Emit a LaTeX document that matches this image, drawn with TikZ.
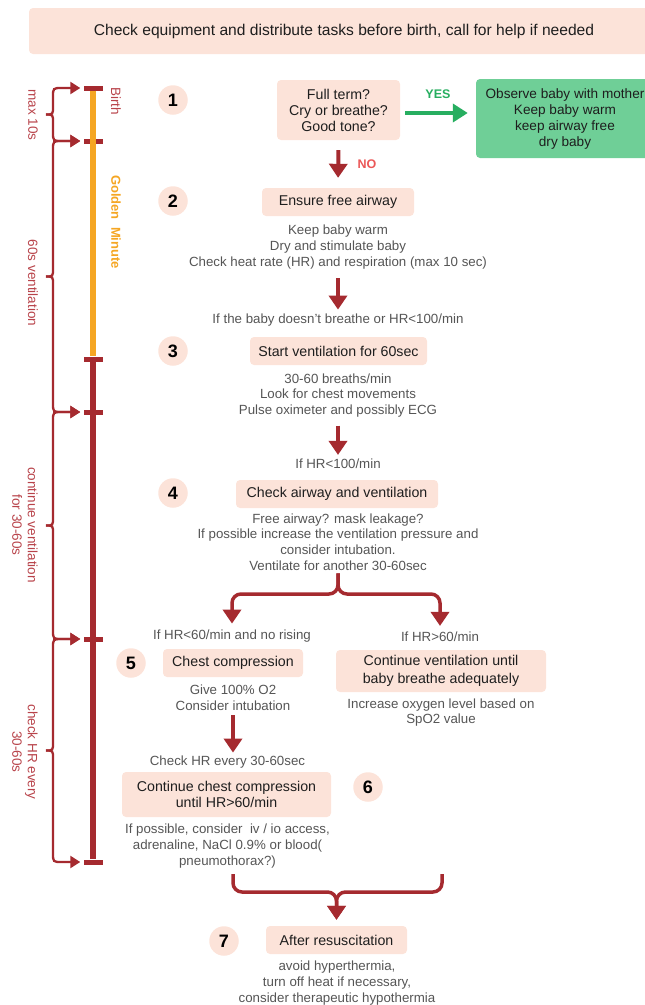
\documentclass[tikz,border=0pt]{standalone}
\usepackage{fontspec}
\setmainfont{Liberation Sans}
\usetikzlibrary{arrows.meta}

\definecolor{peach}{HTML}{FCE3D9}
\definecolor{leaf}{HTML}{6FCF97}
\definecolor{okgreen}{HTML}{27AE60}
\definecolor{darkred}{HTML}{A52A2F}
\definecolor{nored}{HTML}{EB5757}
\definecolor{notegray}{HTML}{555555}
\definecolor{ink}{HTML}{1E1E1E}
\definecolor{gold}{HTML}{F5A623}
\definecolor{timeline}{HTML}{B8434A}

\begin{document}
\begin{tikzpicture}[x=1pt,y=-1pt,
  box/.style={fill=peach, rounded corners=4pt, inner sep=0pt, align=center, text=ink,
    font=\fontsize{14.2}{16.5}\selectfont},
  note/.style={inner sep=0pt, align=center, text=notegray, font=\fontsize{13.3}{15.6}\selectfont},
  stepnum/.style={circle, fill=peach, minimum size=29.5pt, inner sep=0pt, text=black,
    font=\fontsize{18}{18}\selectfont\bfseries},
  flow/.style={draw=darkred, line width=4pt, -{Triangle[width=18pt,length=14pt]}},
  fork/.style={draw=darkred, line width=3.5pt, rounded corners=9pt, -{Triangle[width=18pt,length=14pt]}},
  tick/.style={fill=darkred, minimum width=19pt, minimum height=5pt, inner sep=0pt},
  span/.style={draw=darkred, line width=2.3pt, -{Triangle[width=12pt,length=10pt]}, shorten >=3pt},
  spanlabel/.style={text=timeline, rotate=-90, align=center, inner sep=0pt,
    font=\fontsize{13.5}{15.5}\selectfont},
]
\useasboundingbox (0,0) rectangle (645,1005);
\clip (0,0) rectangle (645,1005);

% ---------- header ----------
\node[box, minimum width=630pt, minimum height=46pt, font=\fontsize{15.6}{18}\selectfont]
  (banner) at (344,31) {Check equipment and distribute tasks before birth, call for help if needed};

% ---------- timeline ----------
\node[tick] (t0) at (93,88) {};
\node[tick] (t1) at (93,141) {};
\node[tick] (t2) at (93,359) {};
\node[tick] (t3) at (93,412) {};
\node[tick] (t4) at (93,639) {};
\node[tick] (t5) at (93,862) {};
\draw[gold, line width=5.5pt] (t0) -- (t2);
\draw[darkred, line width=6.5pt] (t2) -- (t5);

\node[spanlabel] (birth) at (116,101) {Birth};
\node[spanlabel, text=gold, font=\fontsize{13}{15}\selectfont\bfseries] (golden) at (116,222) {Golden\ \ Minute};

\foreach \ya/\yb/\ta/\tb in {88/141/t0/t1, 141/412/t1/t3, 412/639/t3/t4, 639/862/t4/t5} {
  \pgfmathsetmacro\ym{(\ya+\yb)/2}
  \draw[span] (46,\ym) .. controls (53,\ym) .. (53,\ym-8) -- (53,\ya+9)
     .. controls (53,\ya) .. (62,\ya) -- (\ta.west);
  \draw[span] (46,\ym) .. controls (53,\ym) .. (53,\ym+8) -- (53,\yb-9)
     .. controls (53,\yb) .. (62,\yb) -- (\tb.west);
}
\node[spanlabel] (l1) at (33,115) {max 10s};
\node[spanlabel] (l2) at (33,283) {60s ventilation};
\node[spanlabel] (l3) at (25,525) {continue ventilation\\for 30-60s};
\node[spanlabel] (l4) at (25,752) {check HR every\\30-60s};

% ---------- step numbers ----------
\node[stepnum] (s1) at (173,100) {1};
\node[stepnum] (s2) at (173,201) {2};
\node[stepnum] (s3) at (173,351) {3};
\node[stepnum] (s4) at (173,493) {4};
\node[stepnum] (s5) at (131,663) {5};
\node[stepnum] (s6) at (368,787) {6};
\node[stepnum] (s7) at (224,941) {7};

% ---------- step 1 ----------
\node[box, minimum width=123pt, minimum height=60pt, font=\fontsize{14.2}{16}\selectfont]
  (query) at (338.5,110) {Full term?\\Cry or breathe?\\Good tone?};
\node[box, fill=leaf, minimum width=178pt, minimum height=79pt, font=\fontsize{13.6}{16}\selectfont]
  (observe) at (565,118.5) {Observe baby with mother\\Keep baby warm\\keep airway free\\dry baby};
\draw[draw=okgreen, line width=4pt, -{Triangle[width=18pt,length=15pt]}, shorten <=5pt, shorten >=8pt]
  (query.east |- 0,113) -- (observe.west |- 0,113)
  node[midway, above=9pt, text=okgreen, font=\fontsize{12.5}{14}\selectfont\bfseries] (yes) {YES};

% ---------- step 2 ----------
\node[box, minimum width=152pt, minimum height=28pt] (airway) at (338,202) {Ensure free airway};
\draw[flow, shorten <=10pt, shorten >=10pt] (query.south) -- (airway.north)
  node[midway, right=14pt, text=nored, font=\fontsize{12.5}{14}\selectfont\bfseries] (no) {NO};
\node[note] (n2) at (338,247) {Keep baby warm\\Dry and stimulate baby\\Check heat rate (HR) and respiration (max 10 sec)};

% ---------- step 3 ----------
\node[note] (c3) at (338,320) {If the baby doesn’t breathe or HR<100/min};
\draw[flow, shorten <=9pt, shorten >=4pt] (n2.south -| airway.south) -- (c3.north -| airway.south);
\node[box, minimum width=177pt, minimum height=28pt] (vent) at (338.5,351) {Start ventilation for 60sec};
\node[note] (n3) at (338,395.5) {30-60 breaths/min\\Look for chest movements\\Pulse oximeter and possibly ECG};

% ---------- step 4 ----------
\node[note] (c4) at (338,464) {If HR<100/min};
\draw[flow, shorten <=8pt, shorten >=4pt] (n3.south -| airway.south) -- (c4.north -| airway.south);
\node[box, minimum width=202pt, minimum height=28pt] (recheck) at (337,494) {Check airway and ventilation};
\node[note] (n4) at (338,542) {Free airway? mask leakage?\\If possible increase the ventilation pressure and\\consider intubation.\\Ventilate for another 30-60sec};

% ---------- step 5 : two branches ----------
\node[note] (c5) at (232,636) {If HR<60/min and no rising};
\node[note] (c5r) at (440,637) {If HR>60/min};
\draw[fork, shorten >=6pt] ([yshift=-3pt]n4.south) -- (n4.south |- 0,594) -| (c5.north);
\draw[fork, shorten >=6pt] ([yshift=-3pt]n4.south) -- (n4.south |- 0,594) -| (c5r.north);

\node[box, minimum width=140pt, minimum height=28pt] (compress) at (233,663) {Chest compression};
\node[box, minimum width=210pt, minimum height=42pt, font=\fontsize{14.2}{17.5}\selectfont]
  (keepvent) at (441,671) {Continue ventilation until\\baby breathe adequately};
\node[note] (n5) at (233,697.5) {Give 100\% O2\\Consider intubation};
\node[note] (n5r) at (441,712.5) {Increase oxygen level based on\\SpO2 value};

% ---------- step 6 ----------
\node[note] (c6) at (227.5,762) {Check HR every 30-60sec};
\draw[flow, shorten <=5pt, shorten >=3pt] (n5.south) -- (n5.south |- c6.north);
\node[box, minimum width=209pt, minimum height=45pt, font=\fontsize{14.2}{16.5}\selectfont]
  (persist) at (226.5,794.5) {Continue chest compression\\until HR>60/min};
\node[note] (n6) at (227.5,846) {If possible, consider\ \ iv / io access,\\adrenaline, NaCl 0.9\% or blood(\\pneumothorax?)};

% ---------- step 7 ----------
\node[box, minimum width=141pt, minimum height=28pt] (after) at (336.5,940) {After resuscitation};
\coordinate (mergeL) at (233,874);
\coordinate (mergeR) at (442,874);
\draw[fork, shorten >=6pt] (mergeL) |- (after.north |- 0,892) -- (after.north);
\draw[fork, shorten >=6pt] (mergeR) |- (after.north |- 0,892) -- (after.north);
\node[note] (n7) at (337,983) {avoid hyperthermia,\\turn off heat if necessary,\\consider therapeutic hypothermia};
\end{tikzpicture}
\end{document}
